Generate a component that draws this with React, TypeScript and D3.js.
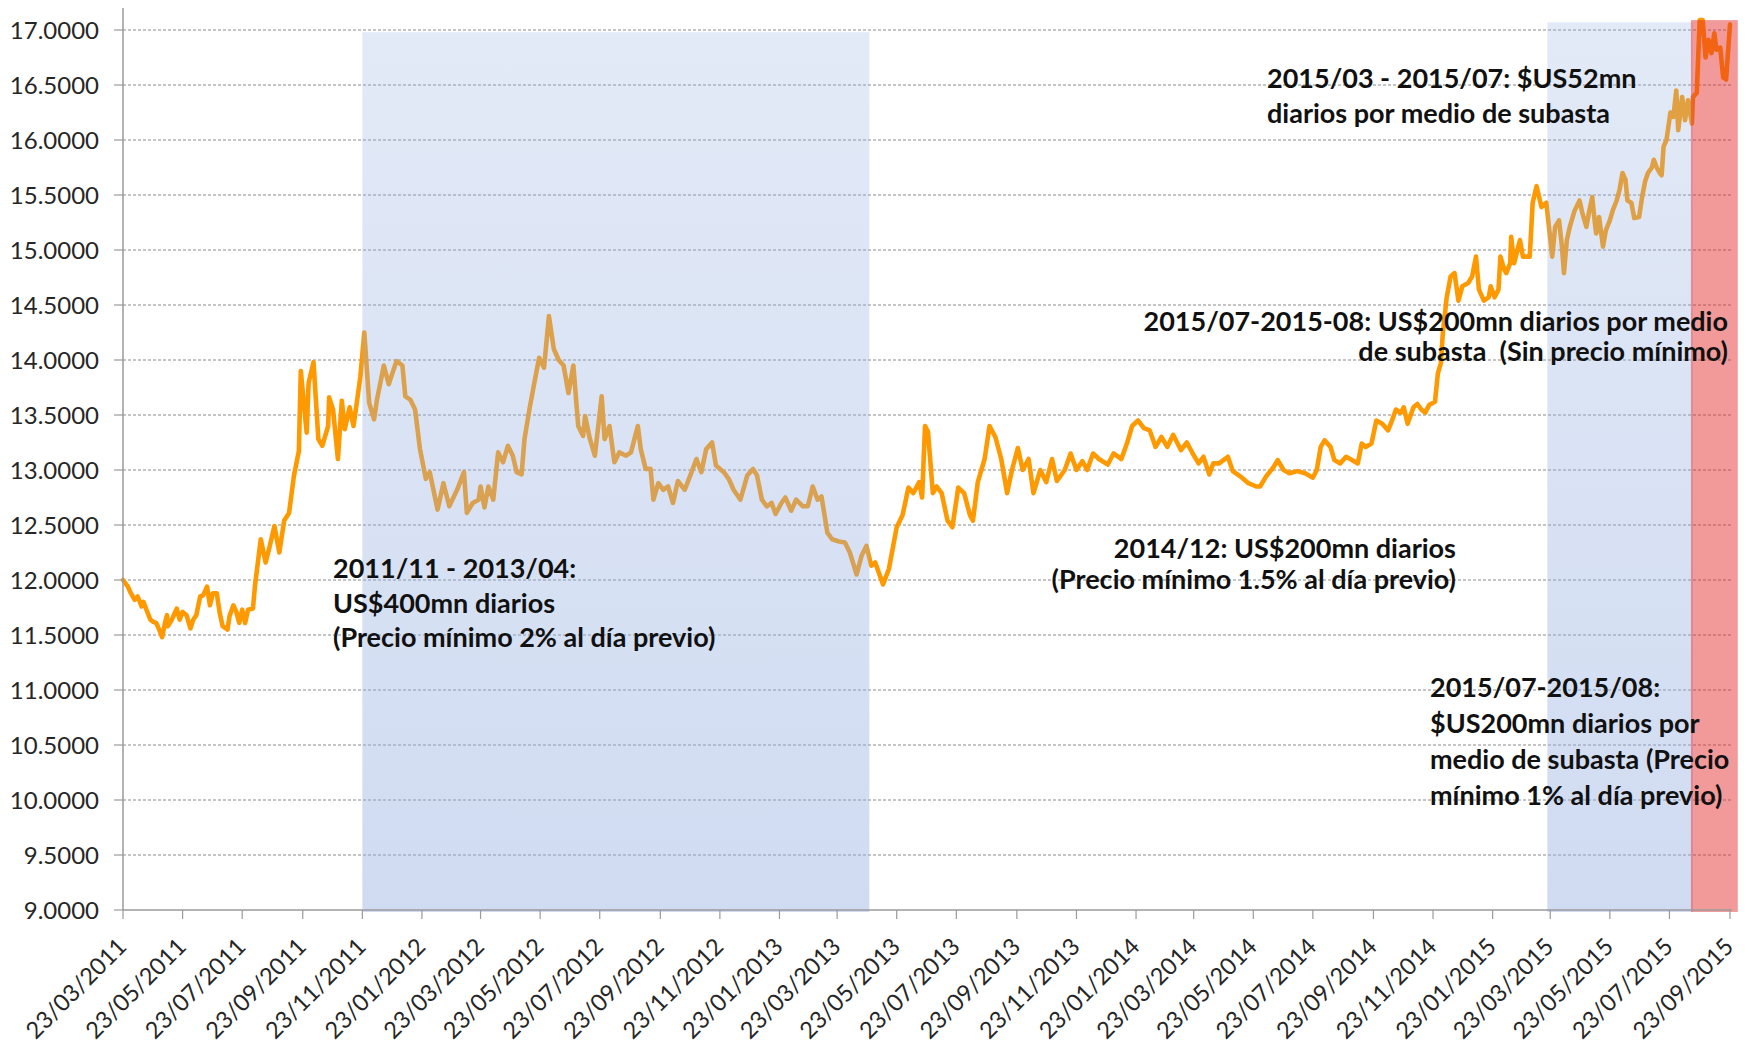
import React from "react";
import * as d3 from "d3";

// ---- data ----
const yTickValues = [9, 9.5, 10, 10.5, 11, 11.5, 12, 12.5, 13, 13.5, 14, 14.5, 15, 15.5, 16, 16.5, 17];
const xTickLabels = [
  "23/03/2011", "23/05/2011", "23/07/2011", "23/09/2011", "23/11/2011",
  "23/01/2012", "23/03/2012", "23/05/2012", "23/07/2012", "23/09/2012", "23/11/2012",
  "23/01/2013", "23/03/2013", "23/05/2013", "23/07/2013", "23/09/2013", "23/11/2013",
  "23/01/2014", "23/03/2014", "23/05/2014", "23/07/2014", "23/09/2014", "23/11/2014",
  "23/01/2015", "23/03/2015", "23/05/2015", "23/07/2015", "23/09/2015",
];

const fx2011: [string, number][] = [
  ["03-23", 12.0], ["03-28", 11.94], ["03-31", 11.88], ["04-04", 11.82], ["04-07", 11.85], ["04-11", 11.76],
  ["04-13", 11.8], ["04-16", 11.73], ["04-20", 11.64], ["04-23", 11.62], ["04-26", 11.61], ["04-30", 11.53],
  ["05-02", 11.48], ["05-05", 11.61], ["05-07", 11.68], ["05-08", 11.58], ["05-12", 11.64], ["05-15", 11.7],
  ["05-17", 11.74], ["05-20", 11.64], ["05-23", 11.71], ["05-27", 11.68], ["05-31", 11.56], ["06-03", 11.64],
  ["06-06", 11.68], ["06-10", 11.85], ["06-13", 11.86], ["06-17", 11.94], ["06-20", 11.77], ["06-23", 11.88],
  ["06-27", 11.88], ["06-30", 11.7], ["07-03", 11.58], ["07-08", 11.55], ["07-10", 11.67], ["07-14", 11.77],
  ["07-17", 11.71], ["07-20", 11.61], ["07-23", 11.73], ["07-26", 11.61], ["07-29", 11.73], ["08-03", 11.74],
  ["08-05", 11.94], ["08-11", 12.37], ["08-16", 12.16], ["08-20", 12.3], ["08-25", 12.49], ["08-30", 12.25],
  ["09-04", 12.54], ["09-09", 12.61], ["09-14", 12.95], ["09-19", 13.17], ["09-21", 13.9], ["09-27", 13.34],
  ["09-29", 13.79], ["10-04", 13.98], ["10-09", 13.28], ["10-13", 13.22], ["10-19", 13.4], ["10-20", 13.66],
  ["10-24", 13.55], ["10-29", 13.1], ["11-02", 13.63], ["11-05", 13.37], ["11-10", 13.57], ["11-14", 13.4],
  ["11-21", 13.85], ["11-25", 14.25], ["11-30", 13.61], ["12-05", 13.46], ["12-08", 13.64], ["12-15", 13.95],
  ["12-20", 13.78], ["12-28", 13.99],
];

const fx2012: [string, number][] = [
  ["01-03", 13.95], ["01-06", 13.67], ["01-11", 13.64], ["01-16", 13.55], ["01-21", 13.19], ["01-27", 12.92],
  ["01-31", 12.98], ["02-08", 12.64], ["02-14", 12.88], ["02-20", 12.67], ["02-28", 12.82], ["03-06", 12.98],
  ["03-09", 12.61], ["03-15", 12.7], ["03-21", 12.73], ["03-23", 12.85], ["03-27", 12.66], ["03-31", 12.85],
  ["04-05", 12.73], ["04-10", 13.16], ["04-15", 13.07], ["04-20", 13.22], ["04-25", 13.13], ["04-29", 12.98],
  ["05-04", 12.96], ["05-07", 13.28], ["05-12", 13.55], ["05-17", 13.79], ["05-22", 14.02], ["05-27", 13.93],
  ["06-01", 14.4], ["06-06", 14.1], ["06-11", 14.0], ["06-16", 13.95], ["06-21", 13.7], ["06-26", 13.95],
  ["07-01", 13.4], ["07-06", 13.31], ["07-08", 13.49], ["07-13", 13.28], ["07-18", 13.13], ["07-25", 13.67],
  ["07-28", 13.28], ["08-02", 13.4], ["08-07", 13.07], ["08-12", 13.16], ["08-19", 13.13], ["08-24", 13.16],
  ["08-31", 13.4], ["09-03", 13.19], ["09-08", 13.01], ["09-13", 13.01], ["09-16", 12.73], ["09-21", 12.88],
  ["09-26", 12.82], ["10-01", 12.85], ["10-06", 12.7], ["10-11", 12.9], ["10-18", 12.82], ["10-25", 12.98],
  ["10-30", 13.1], ["11-04", 12.98], ["11-09", 13.19], ["11-15", 13.25], ["11-19", 13.04], ["11-27", 12.98],
  ["12-02", 12.92], ["12-07", 12.82], ["12-14", 12.73], ["12-21", 12.95], ["12-27", 13.01], ["12-31", 12.95],
];

const fx2013: [string, number][] = [
  ["01-05", 12.73], ["01-10", 12.67], ["01-15", 12.7], ["01-19", 12.6], ["01-25", 12.7], ["01-29", 12.75],
  ["02-04", 12.63], ["02-09", 12.73], ["02-16", 12.67], ["02-21", 12.67], ["02-26", 12.85], ["03-03", 12.73],
  ["03-07", 12.76], ["03-13", 12.43], ["03-18", 12.37], ["03-25", 12.35], ["03-31", 12.34], ["04-05", 12.25],
  ["04-12", 12.05], ["04-17", 12.22], ["04-22", 12.31], ["04-27", 12.13], ["05-01", 12.16], ["05-09", 11.96],
  ["05-15", 12.1], ["05-23", 12.48], ["05-29", 12.59], ["06-04", 12.84], ["06-09", 12.79], ["06-15", 12.89],
  ["06-18", 12.75], ["06-21", 13.4], ["06-24", 13.35], ["06-29", 12.79], ["07-03", 12.85], ["07-08", 12.79],
  ["07-14", 12.54], ["07-19", 12.48], ["07-25", 12.84], ["07-31", 12.79], ["08-06", 12.59], ["08-09", 12.54],
  ["08-14", 12.89], ["08-21", 13.1], ["08-26", 13.4], ["09-01", 13.3], ["09-07", 13.1], ["09-13", 12.79],
  ["09-18", 13.0], ["09-24", 13.2], ["09-29", 13.0], ["10-05", 13.1], ["10-10", 12.79], ["10-17", 13.0],
  ["10-23", 12.89], ["10-29", 13.1], ["11-03", 12.9], ["11-11", 13.0], ["11-17", 13.15], ["11-23", 13.0],
  ["11-29", 13.08], ["12-04", 13.0], ["12-10", 13.15], ["12-16", 13.1], ["12-25", 13.05], ["12-31", 13.15],
];

const fx2014: [string, number][] = [
  ["01-08", 13.1], ["01-14", 13.25], ["01-19", 13.4], ["01-25", 13.45], ["01-31", 13.38], ["02-06", 13.36],
  ["02-12", 13.21], ["02-18", 13.3], ["02-24", 13.21], ["03-02", 13.32], ["03-10", 13.18], ["03-16", 13.25],
  ["03-22", 13.15], ["03-28", 13.06], ["04-02", 13.12], ["04-08", 12.96], ["04-12", 13.06], ["04-18", 13.06],
  ["04-27", 13.12], ["05-02", 12.99], ["05-10", 12.94], ["05-18", 12.88], ["05-26", 12.85], ["05-30", 12.85],
  ["06-05", 12.94], ["06-13", 13.03], ["06-17", 13.09], ["06-23", 13.0], ["06-29", 12.97], ["07-07", 12.99],
  ["07-15", 12.97], ["07-23", 12.93], ["07-27", 13.0], ["07-31", 13.21], ["08-04", 13.27], ["08-10", 13.21],
  ["08-14", 13.09], ["08-20", 13.06], ["08-26", 13.12], ["09-01", 13.09], ["09-07", 13.06], ["09-11", 13.24],
  ["09-15", 13.21], ["09-21", 13.24], ["09-26", 13.45], ["10-02", 13.42], ["10-08", 13.36], ["10-12", 13.45],
  ["10-16", 13.55], ["10-21", 13.52], ["10-24", 13.57], ["10-28", 13.42], ["11-03", 13.57], ["11-07", 13.6],
  ["11-11", 13.55], ["11-15", 13.52], ["11-19", 13.59], ["11-25", 13.62], ["11-28", 13.88], ["12-01", 13.97],
  ["12-03", 14.24], ["12-07", 14.57], ["12-11", 14.76], ["12-15", 14.79], ["12-19", 14.54], ["12-23", 14.67],
  ["12-29", 14.7],
];

const fx2015: [string, number][] = [
  ["01-02", 14.76], ["01-06", 14.94], ["01-09", 14.64], ["01-14", 14.54], ["01-19", 14.57], ["01-21", 14.67],
  ["01-25", 14.57], ["01-29", 14.64], ["01-31", 14.94], ["02-04", 14.82], ["02-06", 14.79], ["02-10", 14.88],
  ["02-11", 15.12], ["02-14", 14.88], ["02-20", 15.09], ["02-23", 14.94], ["03-02", 14.94], ["03-05", 15.43],
  ["03-09", 15.58], ["03-14", 15.39], ["03-19", 15.43], ["03-25", 14.94], ["03-28", 15.21], ["04-01", 15.27],
  ["04-04", 15.03], ["04-06", 14.79], ["04-09", 15.09], ["04-12", 15.21], ["04-17", 15.36], ["04-22", 15.45],
  ["04-25", 15.33], ["04-29", 15.21], ["05-02", 15.36], ["05-05", 15.48], ["05-07", 15.3], ["05-09", 15.15],
  ["05-12", 15.3], ["05-16", 15.03], ["05-19", 15.18], ["05-23", 15.27], ["05-26", 15.36], ["05-30", 15.45],
  ["06-02", 15.55], ["06-05", 15.7], ["06-08", 15.64], ["06-10", 15.45], ["06-14", 15.43], ["06-17", 15.29],
  ["06-22", 15.3], ["06-25", 15.48], ["06-28", 15.62], ["07-01", 15.7], ["07-05", 15.75], ["07-07", 15.82],
  ["07-10", 15.75], ["07-13", 15.7], ["07-15", 15.68], ["07-17", 15.94], ["07-20", 16.0], ["07-24", 16.25],
  ["07-27", 16.21], ["07-30", 16.45], ["08-01", 16.09], ["08-05", 16.39], ["08-08", 16.18], ["08-11", 16.36],
  ["08-15", 16.15], ["08-16", 16.39], ["08-20", 16.43], ["08-23", 17.09], ["08-26", 17.09], ["08-29", 16.75],
  ["09-01", 16.91], ["09-04", 16.79], ["09-07", 16.97], ["09-09", 16.82], ["09-13", 16.84], ["09-16", 16.57],
  ["09-19", 16.55], ["09-23", 17.05],
];

// intervention periods (shaded bands): start, end, top value
const bandStarts = ["2011-11-23", "2015-03-20", "2015-08-14"];
const bandEnds = ["2013-04-25", "2015-08-16", "2015-10-01"];
const bandTops = [16.98, 17.07, 17.09];
const bandKinds = ["blue", "blue", "red"];

const notes: string[][] = [
  ["2011/11 - 2013/04:", "US$400mn diarios", "(Precio mínimo 2% al día previo)"],
  ["2015/03 - 2015/07: $US52mn", "diarios por medio de subasta"],
  ["2015/07-2015-08: US$200mn diarios por medio", "de subasta  (Sin precio mínimo)"],
  ["2014/12: US$200mn diarios", "(Precio mínimo 1.5% al día previo)"],
  ["2015/07-2015/08:", "$US200mn diarios por", "medio de subasta (Precio", "mínimo 1% al día previo)"],
];

type Pt = { date: Date; value: number };

export default function App() {
  const W = 1758;
  const H = 1048;
  const left = 123;
  const right = 1730;
  const plotRight = 1732;
  const parseISO = d3.timeParse("%Y-%m-%d");
  const parseTick = d3.timeParse("%d/%m/%Y");

  const years: [number, [string, number][]][] = [
    [2011, fx2011], [2012, fx2012], [2013, fx2013], [2014, fx2014], [2015, fx2015],
  ];
  const series: Pt[] = years.flatMap(([yr, arr]) =>
    arr.map(([md, v]) => ({ date: parseISO(`${yr}-${md}`) as Date, value: v }))
  );

  const x = d3
    .scaleTime()
    .domain([parseISO("2011-03-23") as Date, parseISO("2015-09-23") as Date])
    .range([left, right]);
  const y = d3.scaleLinear().domain([9, 17]).range([910, 30]);

  const lineGen = d3
    .line<Pt>()
    .x((d) => x(d.date))
    .y((d) => y(d.value));

  const font = "Lato, 'Open Sans', Arial, sans-serif";
  const noteLayout = [
    { x: 333, y: 578, dy: 34.5, anchor: "start" },
    { x: 1267, y: 88, dy: 34.5, anchor: "start" },
    { x: 1728, y: 331, dy: 30, anchor: "end" },
    { x: 1456, y: 558, dy: 31, anchor: "end" },
    { x: 1430, y: 697, dy: 36, anchor: "start" },
  ];

  const axisY = y(9);
  const axisTop = y(17.2);

  return (
    <div>
      <style>{`body{margin:0;}`}</style>
      <svg width={W} height={H} style={{ display: "block", background: "#fff" }}>
        <defs>
          <linearGradient id="blueGrad" x1="0" y1="0" x2="0" y2="1">
            <stop offset="0" stopColor="rgb(150,176,225)" stopOpacity={0.27} />
            <stop offset="1" stopColor="rgb(150,176,225)" stopOpacity={0.45} />
          </linearGradient>
        </defs>

        {/* gridlines */}
        {yTickValues.slice(1).map((v) => (
          <line
            key={"g" + v}
            x1={left}
            x2={plotRight}
            y1={y(v)}
            y2={y(v)}
            stroke="#8a8a8a"
            strokeWidth={1}
            strokeDasharray="3,2"
          />
        ))}

        {/* exchange rate line */}
        <path
          d={lineGen(series) || ""}
          fill="none"
          stroke="#FF9900"
          strokeWidth={4.6}
          strokeLinejoin="round"
          strokeLinecap="round"
        />

        {/* shaded intervention bands (translucent, above the line) */}
        {bandStarts.map((s, i) => {
          const x0 = x(parseISO(s) as Date);
          const x1 = x(parseISO(bandEnds[i]) as Date);
          const yt = y(bandTops[i]);
          return (
            <rect
              key={"b" + i}
              x={x0}
              y={yt}
              width={x1 - x0}
              height={axisY + 2 - yt}
              fill={bandKinds[i] === "red" ? "rgb(228,40,40)" : "url(#blueGrad)"}
              fillOpacity={bandKinds[i] === "red" ? 0.47 : 1}
            />
          );
        })}

        {/* annotations */}
        {notes.map((lines, i) => {
          const L = noteLayout[i];
          return (
            <text
              key={"n" + i}
              x={L.x}
              y={L.y}
              textAnchor={L.anchor as any}
              fontFamily={font}
              fontWeight={700}
              fontSize={27}
              fill="#111"
              style={{ whiteSpace: "pre" }}
            >
              {lines.map((t, j) => (
                <tspan key={j} x={L.x} y={L.y + j * L.dy}>
                  {t}
                </tspan>
              ))}
            </text>
          );
        })}

        {/* y axis */}
        <line x1={left} x2={left} y1={axisTop} y2={axisY} stroke="#9a9a9a" strokeWidth={1.5} />
        {yTickValues.map((v) => (
          <g key={"yt" + v}>
            <line x1={left - 9} x2={left} y1={y(v)} y2={y(v)} stroke="#9a9a9a" strokeWidth={1.2} />
            <text
              x={99}
              y={y(v)}
              dy="0.36em"
              textAnchor="end"
              fontFamily={font}
              fontSize={24}
              fill="#262626"
            >
              {d3.format(".4f")(v)}
            </text>
          </g>
        ))}

        {/* x axis */}
        <line x1={left} x2={plotRight} y1={axisY} y2={axisY} stroke="#9a9a9a" strokeWidth={1.5} />
        {xTickLabels.map((lab) => {
          const xt = x(parseTick(lab) as Date);
          return (
            <g key={"xt" + lab}>
              <line x1={xt} x2={xt} y1={axisY} y2={axisY + 9} stroke="#9a9a9a" strokeWidth={1.2} />
              <text
                transform={`translate(${xt + 5},${axisY + 38}) rotate(-45)`}
                textAnchor="end"
                fontFamily={font}
                fontSize={23.5}
                fill="#262626"
              >
                {lab}
              </text>
            </g>
          );
        })}
      </svg>
    </div>
  );
}
